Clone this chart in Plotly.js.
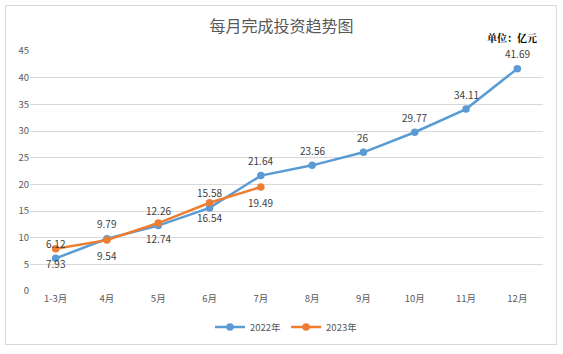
<!DOCTYPE html>
<html>
<head>
<meta charset="utf-8">
<script src="https://cdn.plot.ly/plotly-3.0.1.min.js"></script>
<style>
html,body{margin:0;padding:0;background:#fff;}
#frame{position:absolute;left:5px;top:5px;width:550px;height:338px;border:1px solid #d9d9d9;}
#chart{position:absolute;left:0;top:0;width:563px;height:354px;}
</style>
</head>
<body>
<div id="frame"></div>
<div id="chart"></div>
<script>
const months = ['1-3月','4月','5月','6月','7月','8月','9月','10月','11月','12月'];
const values2022 = [6.12, 9.79, 12.26, 15.58, 21.64, 23.56, 26, 29.77, 34.11, 41.69];
const months2023 = ['1-3月','4月','5月','6月','7月'];
const values2023 = [7.93, 9.54, 12.74, 16.54, 19.49];
const yTicks = [0,5,10,15,20,25,30,35,40,45];

const fam = '"Noto Sans CJK SC", "Noto Sans", sans-serif';
const labelFont = {family:fam, size:10, color:'#404040'};

const traces = [
  {
    x: months, y: values2022, name: '2022年', type: 'scatter', mode: 'lines+markers',
    line: {color:'#5B9BD5', width:2.5}, marker: {color:'#5B9BD5', size:7.5}, cliponaxis:false
  },
  {
    x: months2023, y: values2023, name: '2023年', type: 'scatter', mode: 'lines+markers',
    line: {color:'#ED7D31', width:2.5}, marker: {color:'#ED7D31', size:7.5}, cliponaxis:false
  }
];

const labels = [];
months.forEach((m, i) => labels.push({x:m, y:values2022[i], xref:'x', yref:'y', text:String(values2022[i]),
  showarrow:false, yshift:15, xanchor:'center', yanchor:'middle', font:labelFont}));
months2023.forEach((m, i) => labels.push({x:m, y:values2023[i], xref:'x', yref:'y', text:String(values2023[i]),
  showarrow:false, yshift:-15, xanchor:'center', yanchor:'middle', font:labelFont}));

const layout = {
  width: 563, height: 354,
  margin: {l:30, r:20, t:51, b:63, autoexpand:false},
  paper_bgcolor: 'rgba(0,0,0,0)', plot_bgcolor: 'rgba(0,0,0,0)',
  font: {family:fam, color:'#595959', size:9.5},
  title: {text:'每月完成投资趋势图', x:0.5, xanchor:'center', yref:'container', y:0.925, yanchor:'middle',
          font:{size:16, color:'#595959', family:fam}},
  xaxis: {type:'category', categoryorder:'array', categoryarray: months, range:[-0.5, 9.5],
          showgrid:false, zeroline:false, showline:false, ticks:'',
          tickfont:{size:9.5, color:'#595959'}},
  yaxis: {range:[0,45], tickvals: yTicks, showgrid:true, gridcolor:'#d9d9d9', gridwidth:1,
          zeroline:false, showline:false, ticks:'', ticklen:0,
          tickfont:{size:9.5, color:'#595959'}},
  showlegend: true,
  legend: {orientation:'h', x:0.5, xanchor:'center', yref:'container', y:0.076, yanchor:'middle',
           font:{size:9.5, color:'#595959'}, itemwidth:30, traceorder:'normal'},
  annotations: labels.concat([
    {text:'<b>单位：亿元</b>', xref:'paper', yref:'paper', x:0.94, y:1.058, xanchor:'center', yanchor:'middle',
     showarrow:false, font:{size:10, color:'#000', family:'"Noto Serif CJK SC", "Noto Sans CJK SC", serif'}}
  ])
};

Plotly.newPlot('chart', traces, layout, {displayModeBar:false, staticPlot:true});
</script>
</body>
</html>
